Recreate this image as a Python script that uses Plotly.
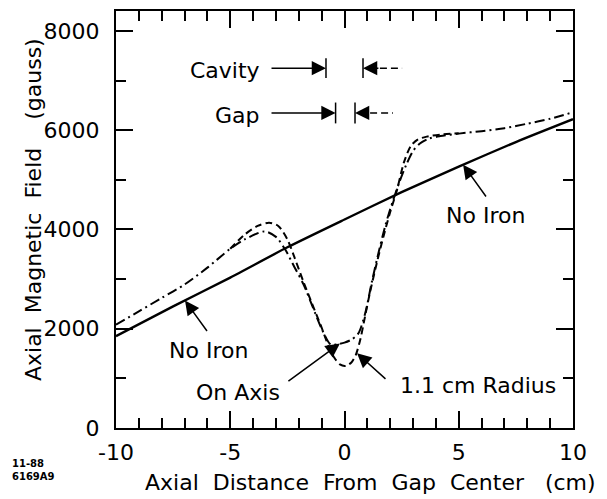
import plotly.graph_objects as go

# ---- data ----
no_iron_x = [-10, -7.5, -5, -2.5, 0, 2.5, 5, 7.5, 10]
no_iron_y = [1850, 2450, 3030, 3640, 4200, 4750, 5265, 5760, 6220]

on_axis_x = [-10, -9, -8, -7, -6, -5, -4.35, -3.5, -3.0, -2.6, -2.2, -1.8, -1.4, -1.0,
             -0.6, -0.3, 0, 0.3, 0.6, 0.9, 1.2, 1.5, 1.8, 2.1, 2.4, 2.7, 3.0, 3.3,
             3.7, 4.2, 5, 6, 7, 8, 9, 10]
on_axis_y = [2080, 2350, 2620, 2890, 3230, 3610, 3803, 3960, 3850, 3600, 3250, 2900, 2450, 2000,
             1680, 1690, 1720, 1780, 1900, 2300, 2950, 3550, 4100, 4550, 4950, 5300, 5580, 5730,
             5830, 5880, 5930, 5980, 6040, 6130, 6230, 6360]

radius_x = [-5, -4.35, -3.8, -3.3, -2.9, -2.5, -2.2, -1.8, -1.4, -1.0, -0.7, -0.45, -0.2,
            0.05, 0.3, 0.5, 0.7, 0.9, 1.1, 1.4, 1.7, 2.0, 2.3, 2.6, 2.9, 3.2, 3.6, 4.2, 5]
radius_y = [3610, 3903, 4070, 4136, 4070, 3800, 3450, 2950, 2480, 2020, 1650, 1420, 1280,
            1250, 1320, 1480, 1800, 2250, 2700, 3300, 3850, 4350, 4800, 5350, 5680, 5810, 5870, 5910, 5935]

x_tick_vals = [-10, -5, 0, 5, 10]
x_tick_labels = ["-10", "-5", "0", "5", "10"]
y_tick_vals = [0, 2000, 4000, 6000, 8000]
y_tick_labels = ["0", "2000", "4000", "6000", "8000"]

cavity_edges = [-0.81, 0.81]
gap_edges = [-0.39, 0.46]

FONT = "DejaVu Sans"
NB = "\u00a0"

fig = go.Figure()
fig.add_trace(go.Scatter(x=no_iron_x, y=no_iron_y, mode="lines",
                         line=dict(color="black", width=2.4, shape="spline", smoothing=0.6)))
fig.add_trace(go.Scatter(x=on_axis_x, y=on_axis_y, mode="lines",
                         line=dict(color="black", width=2, dash="10px,4px,2px,4px",
                                   shape="spline", smoothing=0.8)))
fig.add_trace(go.Scatter(x=radius_x, y=radius_y, mode="lines",
                         line=dict(color="black", width=2, dash="7px,4px",
                                   shape="spline", smoothing=0.8)))

axis_common = dict(showgrid=False, zeroline=False, showline=True, linecolor="black", linewidth=2,
                   mirror="ticks", ticks="inside", tickcolor="black", tickwidth=1.5, ticklen=17,
                   tickfont=dict(family=FONT, size=22, color="black"))

fig.update_xaxes(range=[-10, 10], tickmode="array", tickvals=x_tick_vals, ticktext=x_tick_labels,
                 ticklabelstandoff=4,
                 minor=dict(tickmode="linear", tick0=0, dtick=1, ticks="inside", ticklen=10,
                            tickwidth=1.5, tickcolor="black", showgrid=False),
                 **axis_common)
fig.update_yaxes(range=[0, 8400], tickmode="array", tickvals=y_tick_vals, ticktext=y_tick_labels,
                 ticklabelstandoff=10,
                 minor=dict(tickmode="linear", tick0=0, dtick=1000, ticks="inside", ticklen=10,
                            tickwidth=1.5, tickcolor="black", showgrid=False),
                 **axis_common)

# page (window) geometry: the page body has an 8px margin
OFF = 8
PL, PR, PT, PB = 116, 573, 9, 428      # plot area in window pixels
W, H = 607 - OFF, 499 - OFF
pw, ph = PR - PL, PB - PT


def px(xp):
    return (xp - PL) / pw


def py(yp):
    return (PB - yp) / ph


def text(x, y, s, size=22, xref="x", yref="y", **kw):
    kw.setdefault("xanchor", "center")
    kw.setdefault("yanchor", "middle")
    fig.add_annotation(x=x, y=y, xref=xref, yref=yref, text=s, showarrow=False,
                       font=dict(family=FONT, size=size, color="black"), **kw)


def arrow(x, y, ax, ay):
    fig.add_annotation(x=x, y=y, ax=ax, ay=ay, xref="x", yref="y", axref="x", ayref="y",
                       text="", showarrow=True, arrowhead=2, arrowsize=1.9, arrowwidth=1.5,
                       arrowcolor="black", standoff=0, startstandoff=0)


# curve labels
text(-5.95, 1564, "No" + NB + "Iron")
arrow(-6.98, 2566, -5.97, 1925)
text(6.15, 4271, "No" + NB + "Iron")
arrow(5.19, 5305, 6.24, 4632)
text(-4.66, 722, "On" + NB + "Axis")
arrow(-0.2, 1704, -2.52, 922)
text(5.86, 862, "1.1" + NB + "cm" + NB + "Radius")
arrow(0.55, 1504, 1.86, 962)

# cavity / gap markers
for label, lx, ly, edges, tail_l, tail_r, dash_end, half in [
        ("Cavity", -5.21, 7198, cavity_edges, -3.26, 1.55, 2.52, 200),
        ("Gap", -4.68, 6296, gap_edges, -3.26, 1.12, 2.12, 210)]:
    yline = ly + 50
    text(lx, ly, label)
    arrow(edges[0], yline, tail_l, yline)
    arrow(edges[1], yline, tail_r, yline)
    for e in edges:
        fig.add_shape(type="line", x0=e, x1=e, y0=yline - half, y1=yline + half,
                      line=dict(color="black", width=1.5))
    fig.add_shape(type="line", x0=tail_r, x1=dash_end, y0=yline, y1=yline,
                  line=dict(color="black", width=1.5, dash="7px,4px"))

# axis titles
x_title = (NB * 2).join(["Axial", "Distance", "From", "Gap", "Center"]) + NB * 3 + "(cm)"
y_title = (NB * 2).join(["Axial", "Magnetic", "Field"]) + NB * 4 + "(gauss)"
text(px(370), py(483), x_title, xref="paper", yref="paper")
text(px(33), py(209), y_title, xref="paper", yref="paper", textangle=-90)

# figure id
text(px(10), py(470), "<b>11-88<br>6169A9</b>", size=10, xref="paper", yref="paper",
     xanchor="left", align="left")

fig.update_layout(width=W, height=H,
                  margin=dict(l=PL - OFF, r=W + OFF - PR, t=PT - OFF, b=H + OFF - PB),
                  plot_bgcolor="white", paper_bgcolor="white", showlegend=False)

fig.write_html("out.html")
